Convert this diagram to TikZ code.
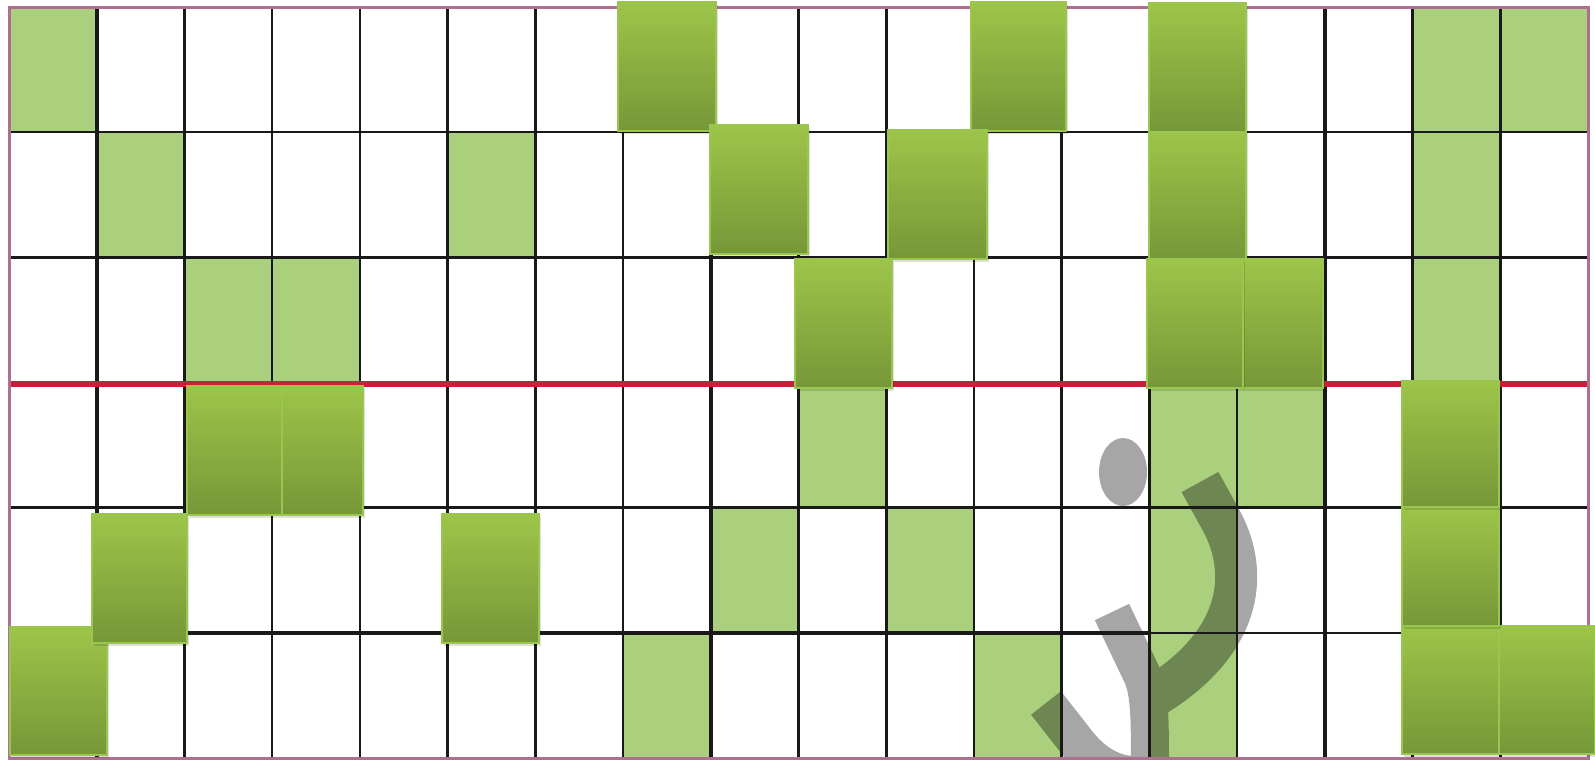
\documentclass[tikz,border=0pt]{standalone}
\definecolor{lgreen}{RGB}{170,208,126}
\definecolor{gtop}{RGB}{157,197,72}
\definecolor{gbot}{RGB}{118,151,56}
\definecolor{gedge}{RGB}{152,198,78}
\definecolor{gridc}{RGB}{25,25,25}
\definecolor{framec}{RGB}{176,110,145}
\definecolor{redl}{RGB}{200,32,58}
\tikzset{
  cellfill/.style={fill=lgreen},
  gridline/.style={draw=gridc, line width=2.6pt},
  gridthick/.style={draw=gridc, line width=3.6pt},
  blockbox/.style={top color=gtop, bottom color=gbot, draw=gedge, line width=1.6pt},
  blockshadow/.style={fill=black, opacity=0.12},
  midline/.style={draw=redl, line width=6pt},
  outerframe/.style={draw=framec, line width=3pt},
  markstroke/.style={draw=black, line width=42pt, line cap=butt, line join=round},
}
\newcommand\gblk[4]{%
  \fill[blockshadow] (#1+2,#2+3) rectangle (#3+2,#4+3);
  \path[blockbox] (#1,#2) rectangle (#3,#4);
}
\begin{document}
\begin{tikzpicture}[x=1pt,y=-1pt]
\useasboundingbox (0,0) rectangle (1595,764);
\fill[white] (0,0) rectangle (1595,764);
% light green cells
\foreach \c/\r in {0/0,16/0,17/0,1/1,5/1,16/1,2/2,3/2,16/2,9/3,13/3,14/3,8/4,10/4,13/4,7/5,11/5,13/5}
  \fill[cellfill] ({9+87.72*\c},{7+125.17*\r}) rectangle ({9+87.72*(\c+1)},{7+125.17*(\r+1)});
% watermark
\begin{scope}
  \clip (9,7) rectangle (1588,758);
  \begin{scope}[transparency group, opacity=0.35]
    \fill[black] (1123,472) ellipse [x radius=24, y radius=34];
    \draw[markstroke] (1200,482) -- (1222,522) .. controls (1250,575) and (1242,645) .. (1148,700);
    \draw[markstroke, line width=38pt] (1112,612) -- (1142,675) .. controls (1150,692) and (1150,720) .. (1150,775);
    \draw[markstroke, line width=38pt] (1046,703) -- (1075,740) .. controls (1090,760) and (1110,775) .. (1135,775);
  \end{scope}
\end{scope}
% grid
\foreach \c in {2,3,4,5,7,9,10,11,12,14,16,17}
  \draw[gridline] ({9+87.72*\c},7) -- ({9+87.72*\c},758);
\foreach \c in {1,6,8,13,15}
  \draw[gridthick] ({9+87.72*\c},7) -- ({9+87.72*\c},758);
\foreach \r in {1,2,4,5}
  \draw[gridline] (9,{7+125.17*\r}) -- (1588,{7+125.17*\r});
\draw[gridthick] ({9+87.72*2},{7+125.17*5}) -- ({9+87.72*13},{7+125.17*5});
% red middle line
\draw[midline] (9,384) -- (1588,384);
% outer frame
\draw[outerframe] (9,7) rectangle (1588,758);
% blocks, upper half
\gblk{618}{2}{716}{131}
\gblk{971}{2}{1066}{131}
\gblk{1149}{3}{1246}{132}
\gblk{710}{125}{808}{254}
\gblk{888}{130}{987}{259}
\gblk{1149}{132}{1246}{259}
\gblk{795}{259}{892}{388}
\gblk{1243}{259}{1323}{388}
\gblk{1147}{259}{1243}{388}
% blocks, lower half
\gblk{10}{627}{107}{755}
\gblk{1402}{626}{1499}{754}
\gblk{1499}{626}{1595}{754}
\gblk{92}{514}{187}{643}
\gblk{442}{514}{539}{643}
\gblk{1402}{507}{1499}{626}
\gblk{187}{386}{282}{515}
\gblk{282}{386}{363}{515}
\gblk{1402}{381}{1499}{507}
\end{tikzpicture}
\end{document}
